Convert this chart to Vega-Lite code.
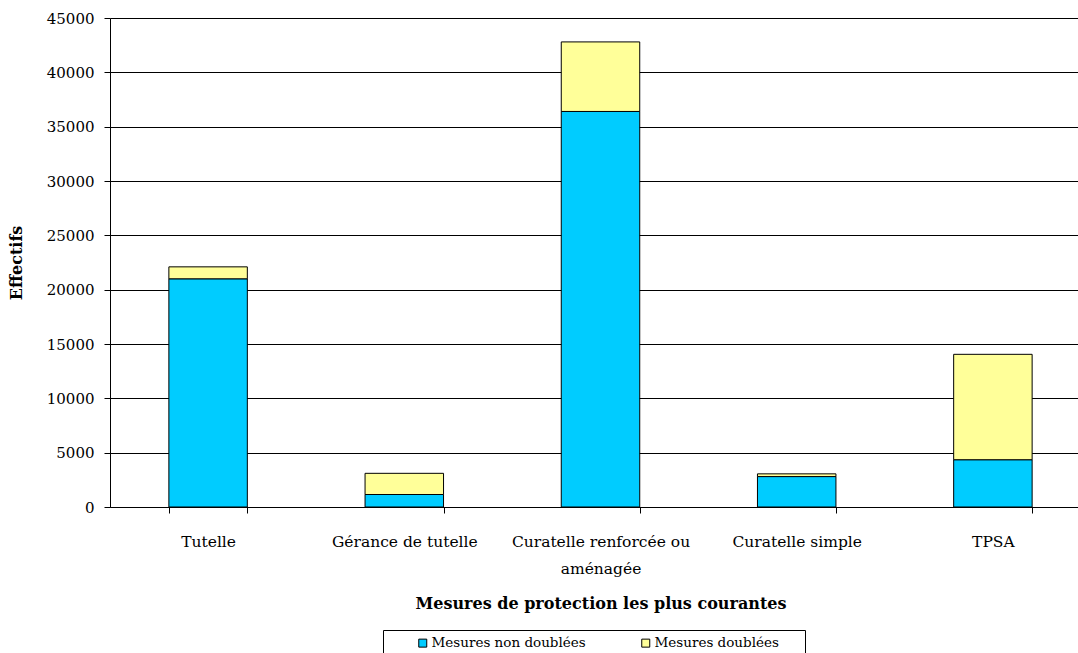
{
  "$schema": "https://vega.github.io/schema/vega-lite/v6.json",
  "width": 968,
  "height": 489,
  "autosize": {"type": "none"},
  "padding": {"left": 110, "top": 18, "right": 0, "bottom": 146},
  "background": "white",
  "config": {"view": {"stroke": null}, "font": "DejaVu Serif"},
  "data": {"values": [
    {"mesure": "Tutelle", "type": "Mesures non doublées", "ordre": 1, "effectif": 21000},
    {"mesure": "Tutelle", "type": "Mesures doublées", "ordre": 2, "effectif": 1100},
    {"mesure": "Gérance de tutelle", "type": "Mesures non doublées", "ordre": 1, "effectif": 1150},
    {"mesure": "Gérance de tutelle", "type": "Mesures doublées", "ordre": 2, "effectif": 1950},
    {"mesure": "Curatelle renforcée ou aménagée", "type": "Mesures non doublées", "ordre": 1, "effectif": 36400},
    {"mesure": "Curatelle renforcée ou aménagée", "type": "Mesures doublées", "ordre": 2, "effectif": 6400},
    {"mesure": "Curatelle simple", "type": "Mesures non doublées", "ordre": 1, "effectif": 2800},
    {"mesure": "Curatelle simple", "type": "Mesures doublées", "ordre": 2, "effectif": 250},
    {"mesure": "TPSA", "type": "Mesures non doublées", "ordre": 1, "effectif": 4350},
    {"mesure": "TPSA", "type": "Mesures doublées", "ordre": 2, "effectif": 9700}
  ]},
  "mark": {"type": "bar", "stroke": "black", "strokeWidth": 1},
  "encoding": {
    "x": {
      "field": "mesure", "type": "nominal", "sort": null,
      "scale": {"range": [0, 981], "paddingInner": 0.6, "paddingOuter": 0.3},
      "axis": {
        "title": "Mesures de protection les plus courantes",
        "titleFont": "DejaVu Serif", "titleFontSize": 16, "titleFontWeight": "bold", "titleColor": "black",
        "titlePadding": 19,
        "labelAngle": 0, "labelFont": "DejaVu Serif", "labelFontSize": 15.5, "labelColor": "black",
        "labelPadding": 21, "labelLineHeight": 27,
        "labelExpr": "datum.value == 'Curatelle renforcée ou aménagée' ? ['Curatelle renforcée ou', 'aménagée'] : datum.value",
        "domainColor": "black", "tickColor": "black", "tickBand": "extent", "tickSize": 6,
        "labelLimit": 300
      }
    },
    "y": {
      "field": "effectif", "type": "quantitative", "stack": "zero",
      "scale": {"domain": [0, 45000], "nice": false},
      "axis": {
        "title": "Effectifs", "titleFont": "DejaVu Serif", "titleFontSize": 16, "titleFontWeight": "bold",
        "titleColor": "black", "titlePadding": 22,
        "values": [0, 5000, 10000, 15000, 20000, 25000, 30000, 35000, 40000, 45000],
        "format": "d", "labelFont": "DejaVu Serif", "labelFontSize": 15, "labelColor": "black",
        "labelPadding": 10,
        "grid": true, "gridColor": "black", "gridOpacity": 1,
        "domainColor": "black", "tickColor": "black", "tickSize": 6
      }
    },
    "color": {
      "field": "type", "type": "nominal",
      "scale": {"domain": ["Mesures non doublées", "Mesures doublées"], "range": ["#00CCFF", "#FFFF99"]},
      "legend": {
        "title": null, "orient": "none", "legendX": 273, "legendY": 612,
        "direction": "horizontal", "columns": 2, "columnPadding": 26,
        "symbolType": "square", "symbolSize": 64, "symbolStrokeColor": "black", "symbolStrokeWidth": 1,
        "labelFont": "DejaVu Serif", "labelFontSize": 13.5, "labelColor": "black", "labelOffset": 2,
        "labelExpr": "datum.label == 'Mesures doublées' ? datum.label + '\u2800\u2800' : datum.label",
        "strokeColor": "black", "padding": 6, "symbolOffset": 27
      }
    },
    "order": {"field": "ordre", "type": "quantitative"}
  }
}
